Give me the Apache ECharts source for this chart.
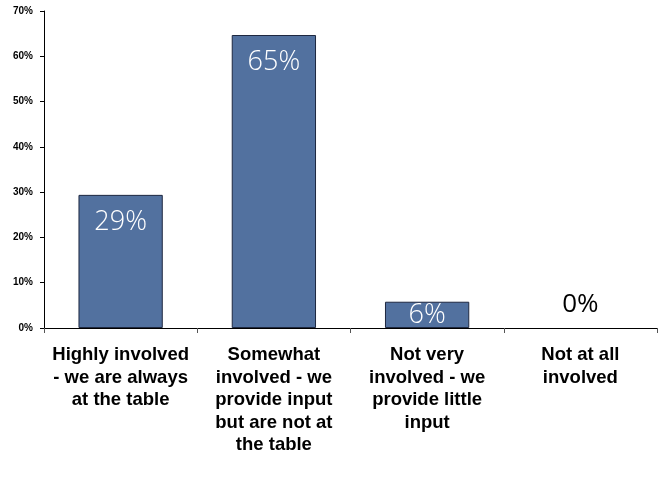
<!DOCTYPE html>
<html><head><meta charset="utf-8">
<script src="https://cdn.jsdelivr.net/npm/echarts@6/dist/echarts.min.js"></script>
<style>html,body{margin:0;padding:0;background:#fff}#c{width:659px;height:478px}</style>
</head><body><div id="c"></div>
<script>
const categories = [
  "Highly involved\n- we are always\nat the table",
  "Somewhat\ninvolved - we\nprovide input\nbut are not at\nthe table",
  "Not very\ninvolved - we\nprovide little\ninput",
  "Not at all\ninvolved"
];
const values = [29.4, 64.7, 5.8, 0];
const yTicks = { min: 0, max: 70, interval: 10 };

const labelBase = { show: true, color: '#fff', fontFamily: '"Open Sans", Lato, sans-serif', fontWeight: 300, fontSize: 27, formatter: p => Math.round(p.value) + '%' };
const data = values.map((v, i) => {
  let label, itemStyle;
  if (v === 0) { label = { position: 'top', distance: 10, color: '#000', fontWeight: 400, fontSize: 26 }; itemStyle = { borderWidth: 0 }; }
  else if (v < 10) label = { position: 'inside' };
  else label = { position: 'insideTop', distance: 14 };
  return { value: v, label, itemStyle };
});

const chart = echarts.init(document.getElementById('c'));
chart.setOption({
  animation: false,
  grid: { left: 44, right: 2, top: 11, bottom: 150, containLabel: false },
  xAxis: {
    type: 'category', data: categories,
    axisLine: { lineStyle: { color: '#000', width: 1 } },
    axisTick: { show: true, length: 5, lineStyle: { color: '#555' } },
    axisLabel: { interval: 0, color: '#000', fontFamily: '"Liberation Sans", Arial, sans-serif', fontWeight: 'bold', fontSize: 18.5, lineHeight: 22.5, margin: 16 }
  },
  yAxis: {
    type: 'value', min: yTicks.min, max: yTicks.max, interval: yTicks.interval,
    axisLine: { show: true, lineStyle: { color: '#000', width: 1 } },
    axisTick: { show: true, length: 4, lineStyle: { color: '#000' } },
    splitLine: { show: false },
    axisLabel: { color: '#000', fontFamily: '"Liberation Sans", Arial, sans-serif', fontWeight: 'bold', fontSize: 10, margin: 11, formatter: v => v + '%' }
  },
  series: [{
    type: 'bar', data, barCategoryGap: '45%',
    itemStyle: { color: '#52719F', borderColor: '#1E2840', borderWidth: 1 },
    label: labelBase
  }]
});
</script></body></html>
